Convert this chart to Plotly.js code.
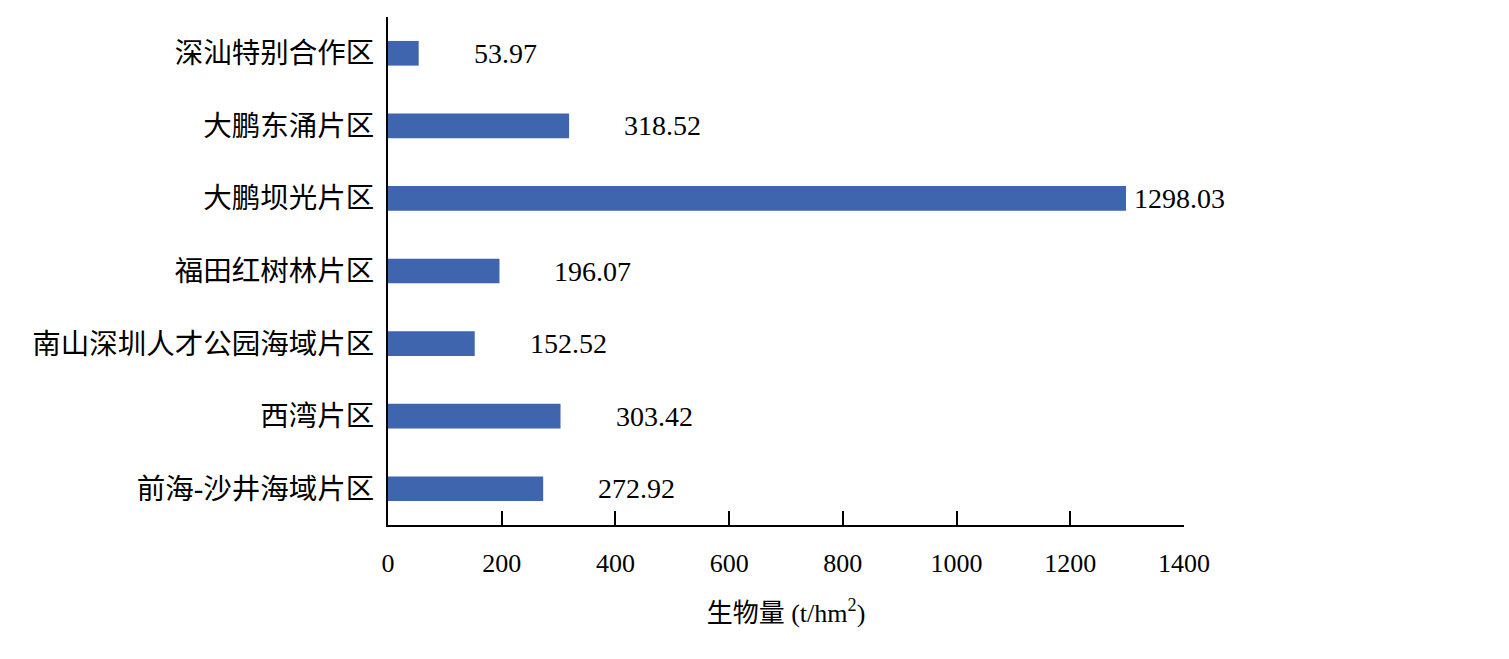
<!DOCTYPE html>
<html>
<head>
<meta charset="utf-8">
<script src="https://cdn.plot.ly/plotly-3.0.1.min.js"></script>
<style>html,body{margin:0;padding:0;background:#fff;}#chart{width:1509px;height:659px;}</style>
</head>
<body>
<div id="chart"></div>
<script>
const categories = ["深汕特别合作区", "大鹏东涌片区", "大鹏坝光片区", "福田红树林片区", "南山深圳人才公园海域片区", "西湾片区", "前海-沙井海域片区"];
const biomass = [53.97, 318.52, 1298.03, 196.07, 152.52, 303.42, 272.92];
const xTicks = [0, 200, 400, 600, 800, 1000, 1200, 1400];

const FONT = "'Liberation Serif', 'Times New Roman', 'Noto Sans CJK SC', serif";

const trace = {
  type: 'bar',
  orientation: 'h',
  y: categories,
  x: biomass,
  width: 0.34,
  marker: {color: '#3F65AF', line: {width: 0}},
  hoverinfo: 'x+y'
};

const annotations = biomass.map((v, i) => ({
  x: v,
  y: categories[i],
  xref: 'x', yref: 'y',
  text: v.toFixed(2),
  showarrow: false,
  xanchor: 'left',
  yanchor: 'middle',
  xshift: v > 1000 ? 6 : 53,
  font: {family: FONT, size: 28, color: '#000'}
}));

const layout = {
  width: 1509,
  height: 659,
  margin: {l: 388, r: 325, t: 17, b: 134, pad: 0},
  paper_bgcolor: '#fff',
  plot_bgcolor: '#fff',
  showlegend: false,
  font: {family: FONT, color: '#000'},
  xaxis: {
    range: [0, 1400],
    tickvals: xTicks,
    ticktext: xTicks.map(String),
    showgrid: false,
    zeroline: false,
    showline: true,
    linecolor: '#000',
    linewidth: 2,
    ticks: 'inside',
    ticklen: 14,
    tickwidth: 2,
    tickcolor: '#000',
    ticklabelstandoff: 14,
    tickfont: {family: FONT, size: 26, color: '#000'},
    title: {text: '生物量 (t/hm<sup>2</sup>)', font: {family: FONT, size: 26, color: '#000'}, standoff: 27},
    fixedrange: true
  },
  yaxis: {
    autorange: 'reversed',
    showgrid: false,
    zeroline: false,
    showline: true,
    linecolor: '#000',
    linewidth: 2,
    ticks: '',
    ticklabelstandoff: 6,
    tickfont: {family: FONT, size: 28.5, color: '#000'},
    fixedrange: true
  },
  annotations: annotations
};

Plotly.newPlot('chart', [trace], layout, {displayModeBar: false, staticPlot: true});
</script>
</body>
</html>
